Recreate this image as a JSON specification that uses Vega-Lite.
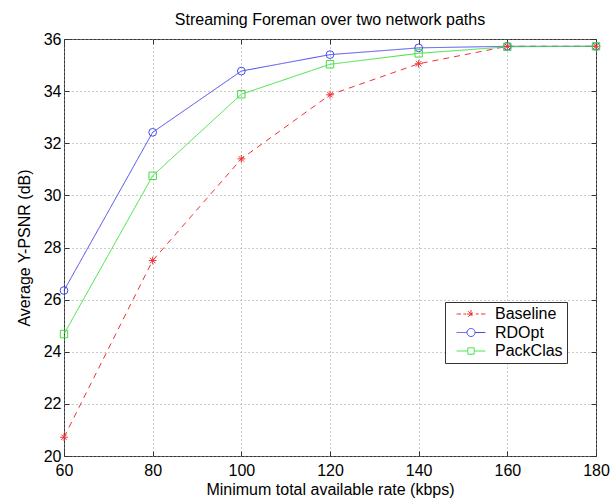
{
  "$schema": "https://vega.github.io/schema/vega-lite/v6.json",
  "width": 532,
  "height": 417,
  "autosize": {"type": "none"},
  "padding": {"left": 64, "top": 39, "right": 15, "bottom": 42},
  "background": "white",
  "title": {"text": "Streaming Foreman over two network paths", "font": "Liberation Sans", "fontSize": 16, "fontWeight": "normal", "color": "black", "offset": 3},
  "config": {
    "view": {"stroke": "#333", "strokeWidth": 1},
    "axis": {"labelFont": "Liberation Sans", "titleFont": "Liberation Sans", "labelFontSize": 16, "titleFontSize": 16, "titleFontWeight": "normal", "labelColor": "black", "titleColor": "black", "domain": false, "gridColor": "#999", "gridDash": [1, 3], "gridWidth": 1, "gridOpacity": 1, "tickColor": "#333", "tickSize": -5, "tickWidth": 1},
    "legend": {"orient": "none", "legendX": 381, "legendY": 263, "symbolSize": 64, "symbolStrokeWidth": 1, "symbolOffset": 14, "labelOffset": 16, "labelFont": "Liberation Sans", "labelFontSize": 16, "labelColor": "black", "strokeColor": "#333", "fillColor": "white", "padding": 4, "rowPadding": 2.5, "labelLimit": 200}
  },
  "data": {"values": [
    {"rate": 60, "psnr": 20.72, "series": "Baseline"},
    {"rate": 80, "psnr": 27.5, "series": "Baseline"},
    {"rate": 100, "psnr": 31.4, "series": "Baseline"},
    {"rate": 120, "psnr": 33.86, "series": "Baseline"},
    {"rate": 140, "psnr": 35.05, "series": "Baseline"},
    {"rate": 160, "psnr": 35.72, "series": "Baseline"},
    {"rate": 180, "psnr": 35.72, "series": "Baseline"},
    {"rate": 60, "psnr": 26.35, "series": "RDOpt"},
    {"rate": 80, "psnr": 32.42, "series": "RDOpt"},
    {"rate": 100, "psnr": 34.77, "series": "RDOpt"},
    {"rate": 120, "psnr": 35.4, "series": "RDOpt"},
    {"rate": 140, "psnr": 35.66, "series": "RDOpt"},
    {"rate": 160, "psnr": 35.72, "series": "RDOpt"},
    {"rate": 180, "psnr": 35.72, "series": "RDOpt"},
    {"rate": 60, "psnr": 24.68, "series": "PackClas"},
    {"rate": 80, "psnr": 30.75, "series": "PackClas"},
    {"rate": 100, "psnr": 33.88, "series": "PackClas"},
    {"rate": 120, "psnr": 35.03, "series": "PackClas"},
    {"rate": 140, "psnr": 35.45, "series": "PackClas"},
    {"rate": 160, "psnr": 35.7, "series": "PackClas"},
    {"rate": 180, "psnr": 35.72, "series": "PackClas"}
  ]},
  "layer": [
    {
      "mark": {"type": "line", "strokeWidth": 1},
      "encoding": {
        "x": {"field": "rate", "type": "quantitative", "scale": {"domain": [60, 180], "nice": false, "zero": false},
              "axis": {"orient": "bottom", "values": [60, 80, 100, 120, 140, 160, 180], "title": "Minimum total available rate (kbps)", "labelPadding": 11, "titlePadding": 3, "labelFlush": false}},
        "y": {"field": "psnr", "type": "quantitative", "scale": {"domain": [20, 36], "nice": false, "zero": false},
              "axis": {"orient": "left", "values": [20, 22, 24, 26, 28, 30, 32, 34, 36], "title": "Average Y-PSNR (dB)", "labelPadding": 8, "titlePadding": 11, "labelFlush": false}},
        "color": {"field": "series", "type": "nominal", "scale": {"domain": ["Baseline", "RDOpt", "PackClas"], "range": ["#ee3333", "#4848f0", "#3ee23e"]}, "legend": {"title": null}},
        "strokeDash": {"field": "series", "type": "nominal", "scale": {"domain": ["Baseline", "RDOpt", "PackClas"], "range": [[6, 5], [1, 0], [1, 0]]}, "legend": null}
      }
    },
    {
      "transform": [{"filter": "datum.series === 'Baseline'"}],
      "mark": {"type": "point", "filled": false, "strokeWidth": 1, "opacity": 1, "shape": "M-1,0L1,0M0,-1L0,1M-0.7,-0.7L0.7,0.7M-0.7,0.7L0.7,-0.7", "size": 60},
      "encoding": {
        "x": {"field": "rate", "type": "quantitative", "scale": {"domain": [60, 180], "nice": false, "zero": false},
              "axis": {"orient": "top", "values": [60, 80, 100, 120, 140, 160, 180], "labels": false, "grid": false, "title": null}},
        "y": {"field": "psnr", "type": "quantitative", "scale": {"domain": [20, 36], "nice": false, "zero": false},
              "axis": {"orient": "right", "values": [20, 22, 24, 26, 28, 30, 32, 34, 36], "labels": false, "grid": false, "title": null}},
        "color": {"field": "series", "type": "nominal", "scale": {"domain": ["Baseline", "RDOpt", "PackClas"], "range": ["#ee3333", "#4848f0", "#3ee23e"]}, "legend": {"title": null}}
      }
    },
    {
      "transform": [{"filter": "datum.series === 'RDOpt'"}],
      "mark": {"type": "point", "filled": false, "strokeWidth": 1, "opacity": 1, "shape": "circle", "size": 60},
      "encoding": {
        "x": {"field": "rate", "type": "quantitative", "scale": {"domain": [60, 180], "nice": false, "zero": false}, "axis": null},
        "y": {"field": "psnr", "type": "quantitative", "scale": {"domain": [20, 36], "nice": false, "zero": false}, "axis": null},
        "color": {"field": "series", "type": "nominal", "scale": {"domain": ["Baseline", "RDOpt", "PackClas"], "range": ["#ee3333", "#4848f0", "#3ee23e"]}, "legend": {"title": null}}
      }
    },
    {
      "transform": [{"filter": "datum.series === 'PackClas'"}],
      "mark": {"type": "point", "filled": false, "strokeWidth": 1, "opacity": 1, "shape": "square", "size": 55},
      "encoding": {
        "x": {"field": "rate", "type": "quantitative", "scale": {"domain": [60, 180], "nice": false, "zero": false}, "axis": null},
        "y": {"field": "psnr", "type": "quantitative", "scale": {"domain": [20, 36], "nice": false, "zero": false}, "axis": null},
        "color": {"field": "series", "type": "nominal", "scale": {"domain": ["Baseline", "RDOpt", "PackClas"], "range": ["#ee3333", "#4848f0", "#3ee23e"]}, "legend": {"title": null}}
      }
    },
    {
      "transform": [{"filter": "datum.rate < 0"}],
      "mark": {"type": "point", "filled": false, "strokeWidth": 1, "opacity": 1},
      "encoding": {
        "x": {"field": "rate", "type": "quantitative", "scale": {"domain": [60, 180], "nice": false, "zero": false}, "axis": null},
        "y": {"field": "psnr", "type": "quantitative", "scale": {"domain": [20, 36], "nice": false, "zero": false}, "axis": null},
        "color": {"field": "series", "type": "nominal", "scale": {"domain": ["Baseline", "RDOpt", "PackClas"], "range": ["#ee3333", "#4848f0", "#3ee23e"]}, "legend": {"title": null}},
        "shape": {"field": "series", "type": "nominal", "scale": {"domain": ["Baseline", "RDOpt", "PackClas"], "range": ["M-3.6,0L-2.5,0M-1.9,0L-1.2,0M1.2,0L1.9,0M2.5,0L3.6,0M-1,0L1,0M0,-1L0,1M-0.7,-0.7L0.7,0.7M-0.7,0.7L0.7,-0.7", "M-3.6,0L-1,0M1,0L3.6,0M-1,0A1,1 0 1,0 1,0A1,1 0 1,0 -1,0", "M-3.6,0L-0.8,0M0.8,0L3.6,0M-0.8,-0.8L0.8,-0.8L0.8,0.8L-0.8,0.8Z"]}, "legend": {"title": null}},
        "size": {"value": 64}
      }
    }
  ],
  "resolve": {"axis": {"x": "independent", "y": "independent"}}
}
